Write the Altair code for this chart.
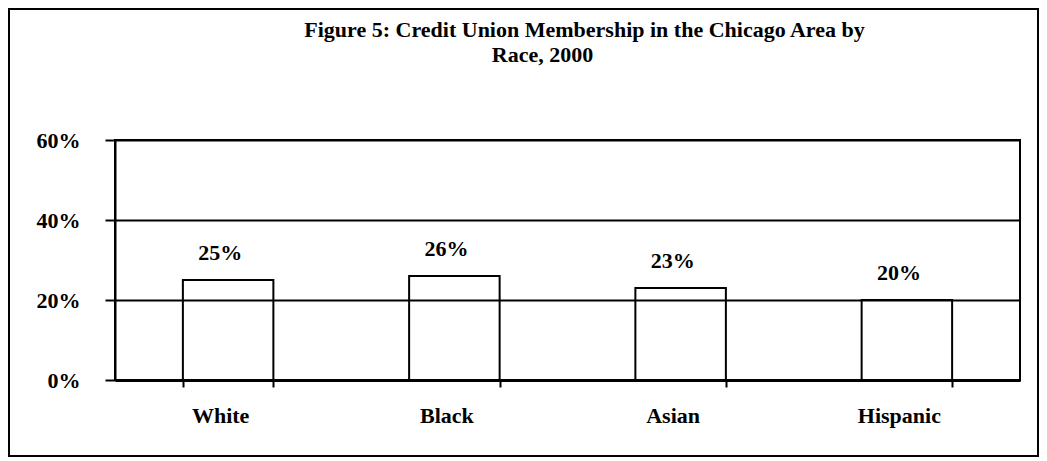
import altair as alt
import pandas as pd

races = ["White", "Black", "Asian", "Hispanic"]
shares = [0.25, 0.26, 0.23, 0.20]
title_line1 = "Figure 5: Credit Union Membership in the Chicago Area by"
title_line2 = "Race, 2000"
y_ticks = [0, 0.2, 0.4, 0.6]

df = pd.DataFrame({"race": races, "share": shares})

FONT = "Liberation Serif"
W, H = 905, 240
PAD = {"left": 107, "top": 132, "right": 19, "bottom": 77}

x_enc = alt.X(
    "race:N",
    sort=races,
    scale=alt.Scale(paddingInner=0.6, paddingOuter=0.3),
    axis=alt.Axis(
        title=None, labelAngle=0, labelFont=FONT, labelFontSize=22,
        labelFontWeight="bold", labelColor="black", labelBaseline="alphabetic",
        labelPadding=35, labelOffset=-8, tickBand="extent", tickSize=7,
        tickWidth=2, tickColor="black", domainColor="black", domainWidth=3,
        grid=False,
    ),
)
y_enc = alt.Y(
    "share:Q",
    scale=alt.Scale(domain=[0, 0.6], nice=False),
    axis=alt.Axis(
        title=None, values=y_ticks, format=".0%", labelFont=FONT,
        labelFontSize=22, labelFontWeight="bold", labelColor="black",
        labelPadding=25, tickSize=10, tickWidth=2, tickColor="black",
        domainColor="black", domainWidth=2, grid=True, gridColor="black",
        gridWidth=2, gridOpacity=1,
    ),
)

bars = alt.Chart(df).mark_bar(
    fill="transparent", stroke="black", strokeWidth=2
).encode(x=x_enc, y=y_enc)

labels = alt.Chart(df).mark_text(
    font=FONT, fontSize=22, fontWeight="bold", color="black",
    baseline="alphabetic", dy=-20, dx=-8,
).encode(
    x=alt.X("race:N", sort=races),
    y=alt.Y("share:Q"),
    text=alt.Text("share:Q", format=".0%"),
)

one = pd.DataFrame({"t1": [title_line1], "t2": [title_line2]})

frame = alt.Chart(one).mark_rect(
    fill="transparent", stroke="black", strokeWidth=2
).encode(
    x=alt.value(-PAD["left"] + 1), x2=alt.value(W + PAD["right"] - 1),
    y=alt.value(-PAD["top"] + 1), y2=alt.value(H + PAD["bottom"] - 1),
)

t1 = alt.Chart(one).mark_text(
    font=FONT, fontSize=22, fontWeight="bold", color="black",
    baseline="alphabetic", align="center",
).encode(x=alt.value(469.5), y=alt.value(-103), text="t1:N")

t2 = alt.Chart(one).mark_text(
    font=FONT, fontSize=22, fontWeight="bold", color="black",
    baseline="alphabetic", align="center",
).encode(x=alt.value(427.5), y=alt.value(-78), text="t2:N")

chart = alt.layer(bars, labels, frame, t1, t2).properties(
    width=W, height=H,
    autosize=alt.AutoSizeParams(type="none"),
    padding=PAD,
    background="white",
).configure_view(stroke="black", strokeWidth=2)

chart.save("out.html", embed_options={"renderer": "svg", "actions": False})
